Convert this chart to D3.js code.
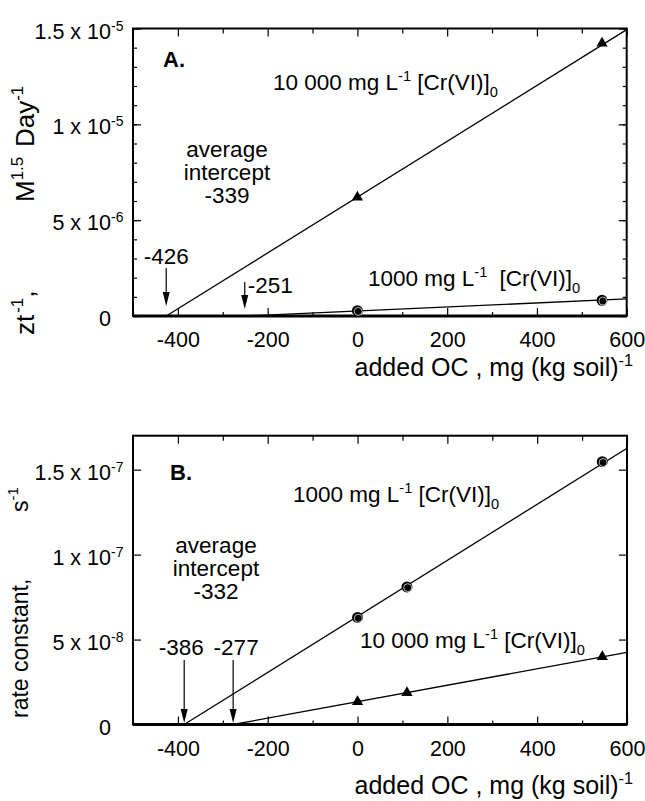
<!DOCTYPE html>
<html>
<head>
<meta charset="utf-8">
<script src="https://cdn.jsdelivr.net/npm/d3@7"></script>
<style>
  body { margin: 0; background: #fff; }
  text { font-family: "Liberation Sans", Arial, Helvetica, sans-serif; fill: #000; }
</style>
</head>
<body>
<svg width="645" height="801"></svg>
<script>
// x axis (added OC, mg/kg soil)
var xMajor = [-400, -200, 0, 200, 400, 600];
var xMinor = [-500, -300, -100, 100, 300, 500];

// panel A: zt^-1
var ocA = [0, 545];
var triA = [6.2e-6, 1.423e-5];   // 10 000 mg/L
var circA = [2.8e-7, 8.2e-7];    // 1000 mg/L
var fitTriA = [[-426, 0], [600, 1.494e-5]];
var fitCircA = [[-251, 0], [600, 8.9e-7]];
var yTicksA = [0, 5e-6, 1e-5, 1.5e-5];
var yMantA = ["0", "5 x 10", "1 x 10", "1.5 x 10"];
var yExpA = ["", "-6", "-5", "-5"];

// panel B: rate constant
var ocB = [0, 110, 545];
var circB = [6.3e-8, 8.1e-8, 1.547e-7];  // 1000 mg/L
var triB = [1.34e-8, 1.87e-8, 3.99e-8];  // 10 000 mg/L
var fitCircB = [[-386, 0], [600, 1.626e-7]];
var fitTriB = [[-277, 0], [600, 4.25e-8]];
var yTicksB = [0, 5e-8, 1e-7, 1.5e-7];
var yMantB = ["0", "5 x 10", "1 x 10", "1.5 x 10"];
var yExpB = ["", "-8", "-7", "-7"];

var svg = d3.select("svg");

// text with sup/sub pieces
function rich(g, x, y, parts, size, anchor) {
    var t = g.append("text").attr("x", x).attr("y", y)
        .attr("font-size", size).attr("text-anchor", anchor || "start");
    var shift = 0;
    parts.forEach(function (p) {
        var target = p.sup ? -0.42 * size : (p.sub ? 0.3 * size : 0);
        var ts = t.append("tspan").text(p.t).attr("dy", target - shift);
        if (p.sup || p.sub) ts.attr("font-size", size * 0.65);
        if (p.dx) ts.attr("dx", p.dx);
        if (p.x !== undefined) ts.attr("x", p.x);
        shift = target;
    });
    return t;
}

function arrow(g, x, y0, y1) {
    g.append("line").attr("x1", x).attr("x2", x).attr("y1", y0).attr("y2", y1 - 10)
        .attr("stroke", "#000").attr("stroke-width", 1.2);
    g.append("path").attr("d", "M" + x + "," + y1 + "L" + (x - 3.5) + "," + (y1 - 14) + "L" + (x + 3.5) + "," + (y1 - 14) + "Z")
        .attr("fill", "#000");
}

function panel(cfg) {
    var x = d3.scaleLinear().domain([-500, 600]).range([cfg.left, cfg.right]);
    var y = d3.scaleLinear().domain([0, cfg.yMax]).range([cfg.bottom, cfg.top]);
    var g = svg.append("g");

    function clean(a) {
        a.select(".domain").remove();
        a.attr("font-family", null).attr("font-size", null);
        a.selectAll("line").attr("stroke", "#000").attr("stroke-width", 1.2);
    }

    // bottom
    g.append("g").attr("transform", "translate(0," + cfg.bottom + ")")
        .call(d3.axisBottom(x).tickValues(xMajor).tickSizeInner(-8).tickSizeOuter(0)
            .tickFormat(function (d) { return String(d); }))
        .call(clean)
        .call(function (a) {
            a.selectAll("text").attr("y", 31).attr("dy", null).attr("font-size", 21.5).attr("fill", "#000");
        });
    g.append("g").attr("transform", "translate(0," + cfg.bottom + ")")
        .call(d3.axisBottom(x).tickValues(xMinor).tickSize(-4).tickFormat("")).call(clean);
    // top
    g.append("g").attr("transform", "translate(0," + cfg.top + ")")
        .call(d3.axisTop(x).tickValues(xMajor).tickSize(-8).tickFormat("")).call(clean);
    g.append("g").attr("transform", "translate(0," + cfg.top + ")")
        .call(d3.axisTop(x).tickValues(xMinor).tickSize(-5).tickFormat("")).call(clean);
    // left / right
    g.append("g").attr("transform", "translate(" + cfg.left + ",0)")
        .call(d3.axisLeft(y).tickValues(cfg.yTicks).tickSize(-8).tickFormat("")).call(clean);
    g.append("g").attr("transform", "translate(" + cfg.right + ",0)")
        .call(d3.axisRight(y).tickValues(cfg.yTicks).tickSize(-8).tickFormat("")).call(clean);
    if (cfg.yMinor) {
        g.append("g").attr("transform", "translate(" + cfg.left + ",0)")
            .call(d3.axisLeft(y).tickValues(y.ticks(cfg.yMinor)).tickSize(-4).tickFormat("")).call(clean);
        g.append("g").attr("transform", "translate(" + cfg.right + ",0)")
            .call(d3.axisRight(y).tickValues(y.ticks(cfg.yMinor)).tickSize(-4).tickFormat("")).call(clean);
    }

    // y tick labels with exponents
    cfg.yTicks.forEach(function (v, i) {
        var ty = y(v);
        g.append("text").attr("x", 111).attr("y", ty + 10).attr("text-anchor", "end")
            .attr("font-size", 21.5).text(cfg.yMant[i]);
        if (cfg.yExp[i]) {
            g.append("text").attr("x", 111).attr("y", ty + 2).attr("font-size", 14)
                .text(cfg.yExp[i]);
        }
    });

    // frame
    g.append("rect").attr("x", cfg.left).attr("y", cfg.top)
        .attr("width", cfg.right - cfg.left).attr("height", cfg.bottom - cfg.top)
        .attr("fill", "none").attr("stroke", "#000").attr("stroke-width", 2);
    g.append("line").attr("x1", cfg.left).attr("x2", cfg.right)
        .attr("y1", cfg.bottom).attr("y2", cfg.bottom)
        .attr("stroke", "#000").attr("stroke-width", 3);

    // fit lines
    var line = d3.line().x(function (d) { return x(d[0]); }).y(function (d) { return y(d[1]); });
    cfg.fits.forEach(function (f) {
        g.append("path").attr("d", line(f)).attr("fill", "none")
            .attr("stroke", "#000").attr("stroke-width", 1.3);
    });

    // markers
    g.selectAll(".tri").data(cfg.tri).enter().append("path")
        .attr("class", "tri")
        .attr("d", d3.symbol(d3.symbolTriangle).size(55))
        .attr("transform", function (d, i) { return "translate(" + x(cfg.oc[i]) + "," + y(d) + ")"; })
        .attr("fill", "#000");
    var circ = g.selectAll(".circ").data(cfg.circ).enter().append("g")
        .attr("class", "circ")
        .attr("transform", function (d, i) { return "translate(" + x(cfg.oc[i]) + "," + y(d) + ")"; });
    circ.append("circle").attr("r", 5.5).attr("fill", "#000");
    circ.append("circle").attr("r", 4).attr("cx", 0.8).attr("cy", 0.8)
        .attr("fill", "none").attr("stroke", "#fff").attr("stroke-width", 0.7);

    // x title
    rich(g, 633, cfg.xTitleY, [{ t: "added OC , mg (kg soil)" }, { t: "-1", sup: true }], 25, "end");

    return { x: x, y: y, g: g };
}

// ---- panel A ----
var A = panel({
    left: 133, right: 626.7, top: 28.5, bottom: 316, yMax: 1.5e-5,
    yTicks: yTicksA, yMant: yMantA, yExp: yExpA, yMinor: 15,
    oc: ocA, tri: triA, circ: circA, fits: [fitTriA, fitCircA], xTitleY: 376
});
A.g.append("text").attr("x", 163).attr("y", 67).attr("font-size", 22)
    .attr("font-weight", "bold").text("A.");
rich(A.g, 273, 90, [{ t: "10 000 mg L" }, { t: "-1", sup: true }, { t: " [Cr(VI)]" }, { t: "0", sub: true }], 22.5);
rich(A.g, 368, 286, [{ t: "1000 mg L" }, { t: "-1", sup: true }, { t: " [Cr(VI)]", dx: 6 }, { t: "0", sub: true }], 22.5);
["average", "intercept", "-339"].forEach(function (s, i) {
    A.g.append("text").attr("x", 227).attr("y", 157 + i * 23).attr("text-anchor", "middle")
        .attr("font-size", 22.5).text(s);
});
A.g.append("text").attr("x", A.x(-426)).attr("y", 264).attr("text-anchor", "middle")
    .attr("font-size", 22.5).text("-426");
arrow(A.g, A.x(-426), 268, 306);
A.g.append("text").attr("x", A.x(-251) + 3).attr("y", 293)
    .attr("font-size", 22.5).text("-251");
arrow(A.g, A.x(-251), 282, 309);
var yA = A.g.append("g").attr("transform", "translate(34,335) rotate(-90)");
rich(yA, 0, 0, [{ t: "zt" }, { t: "-1", sup: true, dx: 2 }, { t: "," }, { t: "M", x: 133 },
    { t: "1.5", sup: true }, { t: "Day", x: 188 }, { t: "-1", sup: true }], 26);

// ---- panel B ----
var B = panel({
    left: 133, right: 627, top: 435.7, bottom: 724.5, yMax: 1.7e-7,
    yTicks: yTicksB, yMant: yMantB, yExp: yExpB,
    oc: ocB, tri: triB, circ: circB, fits: [fitCircB, fitTriB], xTitleY: 794
});
B.g.append("text").attr("x", 170).attr("y", 480).attr("font-size", 22)
    .attr("font-weight", "bold").text("B.");
rich(B.g, 293, 502, [{ t: "1000 mg L" }, { t: "-1", sup: true }, { t: " [Cr(VI)]" }, { t: "0", sub: true }], 22.5);
rich(B.g, 360, 648, [{ t: "10 000 mg L" }, { t: "-1", sup: true }, { t: " [Cr(VI)]" }, { t: "0", sub: true }], 22.5);
["average", "intercept", "-332"].forEach(function (s, i) {
    B.g.append("text").attr("x", 216).attr("y", 553 + i * 23).attr("text-anchor", "middle")
        .attr("font-size", 22.5).text(s);
});
B.g.append("text").attr("x", B.x(-386) - 3).attr("y", 655).attr("text-anchor", "middle")
    .attr("font-size", 22.5).text("-386");
arrow(B.g, B.x(-386), 660, 723);
B.g.append("text").attr("x", B.x(-277) + 3).attr("y", 655).attr("text-anchor", "middle")
    .attr("font-size", 22.5).text("-277");
arrow(B.g, B.x(-277), 660, 723);
var yB = B.g.append("g").attr("transform", "translate(28,718) rotate(-90)");
rich(yB, 0, 0, [{ t: "rate constant," }, { t: "s", x: 206 }, { t: "-1", sup: true }], 23);
</script>
</body>
</html>
